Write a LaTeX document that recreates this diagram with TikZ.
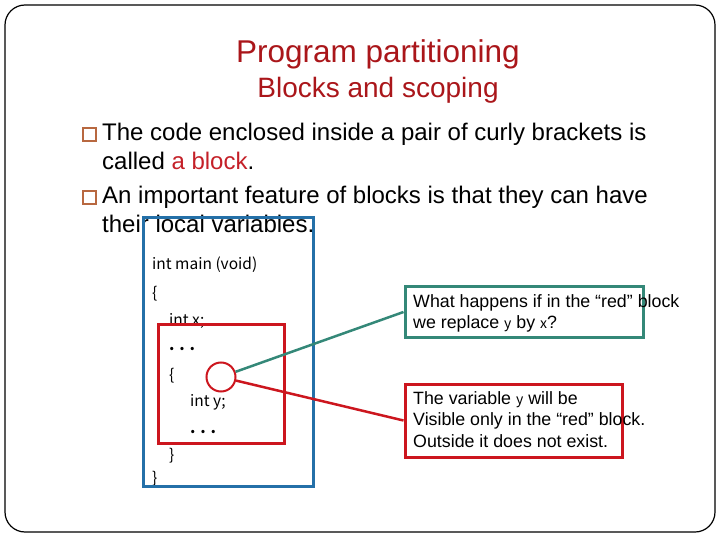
\documentclass[tikz,border=0pt]{standalone}
\usepackage{fontspec}
\setmainfont{Liberation Sans}
\newfontfamily\codefont{Noto Sans CJK JP}
\usetikzlibrary{positioning}

\definecolor{titlered}{RGB}{170,22,26}
\definecolor{blockred}{RGB}{196,32,40}
\definecolor{framered}{RGB}{204,22,30}
\definecolor{scopeblue}{RGB}{36,112,168}
\definecolor{noteteal}{RGB}{52,136,120}
\definecolor{bulletbrown}{RGB}{184,104,64}

\newcommand{\varname}[1]{{\codefont\fontsize{14}{16}\selectfont #1}}

\begin{document}
\begin{tikzpicture}[x=1pt, y=-1pt,
    title/.style={text=titlered, inner sep=0pt, anchor=base},
    body/.style={font=\fontsize{24}{28}\selectfont, inner sep=0pt, anchor=base west},
    bullet/.style={draw=bulletbrown, line width=1.6pt, minimum size=13.5pt, inner sep=0pt},
    code/.style={font=\codefont\fontsize{15.5}{18}\selectfont, inner sep=0pt, anchor=base west},
    note/.style={font=\fontsize{17.8}{21.5}\selectfont, inner sep=0pt, anchor=north west, align=left},
    frame/.style={draw, line width=3pt, inner sep=0pt},
    link/.style={line width=2.5pt}]

  \useasboundingbox (0,0) rectangle (720,540);
  % slide frame
  \draw[line width=1.2pt, rounded corners=20pt] (5,5) rectangle (715,532);

  % Title
  \node[title, font=\fontsize{31.5}{36}\selectfont] (head) at (378,63) {Program partitioning};
  \node[title, font=\fontsize{28}{32}\selectfont] (subhead) at (378,98) {Blocks and scoping};

  % Bullets
  \node[bullet] (b1) at (89.5,134.5) {};
  \node[bullet] (b2) at (89.5,197.5) {};
  \node[body] (t1) at (102,141) {The code enclosed inside a pair of curly brackets is};
  \node[body] (t2) at (102,170) {called \textcolor{blockred}{a block}.};
  \node[body] (t3) at (102,204) {An important feature of blocks is that they can have};
  \node[body] (t4) at (102,233) {their local variables.};

  % Code
  \node[code] (c1) at (152,269) {int main (void)};
  \node[code] (c2) at (152,298) {\{};
  \node[code] (c3) at (169,325) {int x;};
  \node[code] (c4) at (169,350) {\textbf{. . .}};
  \node[code] (c5) at (169,380) {\{};
  \node[code] (c6) at (190,406) {int y;};
  \node[code] (c7) at (190,433) {\textbf{. . .}};
  \node[code] (c8) at (169,460) {\}};
  \node[code] (c9) at (152,483) {\}};

  % Scopes
  \node[frame, draw=scopeblue, minimum width=170pt, minimum height=269pt] (outer) at (228,352) {};
  \node[frame, draw=framered, minimum width=126pt, minimum height=119pt] (inner) at (221,384) {};
  \node[draw=framered, circle, line width=2pt, minimum size=29pt, inner sep=0pt] (hole) at (221,377) {};

  % Notes
  \node[frame, draw=noteteal, minimum width=238pt, minimum height=51pt] (qbox) at (524,312) {};
  \node[note] (qtext) at (413,294) {What happens if in the “red” block\\we replace \varname{y} by \varname{x}?};
  \node[frame, draw=framered, minimum width=217pt, minimum height=73pt] (abox) at (513.5,420.5) {};
  \node[note] (atext) at (413,391) {The variable \varname{y} will be\\Visible only in the “red” block.\\Outside it does not exist.};

  \draw[link, noteteal] (hole) -- (qbox.west);
  \draw[link, framered] (hole) -- (abox.west);

\end{tikzpicture}
\end{document}
